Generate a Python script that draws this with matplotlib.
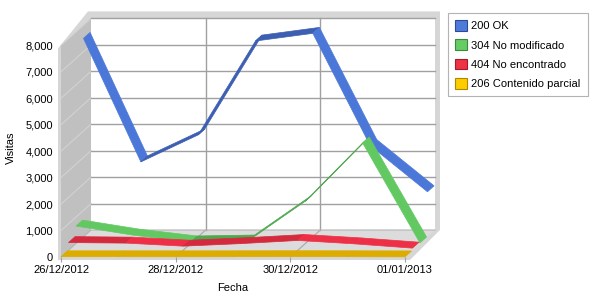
import matplotlib.pyplot as plt
from matplotlib.patches import Polygon, Patch

# data
fechas = ['26/12/2012', '27/12/2012', '28/12/2012', '29/12/2012',
          '30/12/2012', '31/12/2012', '01/01/2013']
ok_200 = [7500, 2830, 3850, 7400, 7690, 3450, 1700]
no_mod_304 = [660, 315, 60, 95, 1600, 3800, 20]
no_enc_404 = [290, 270, 155, 250, 370, 240, 80]
parcial_206 = [10, 10, 8, 10, 12, 10, 5]

labels = ['200 OK', '304 No modificado', '404 No encontrado', '206 Contenido parcial']
values = [ok_200, no_mod_304, no_enc_404, parcial_206]
# (light face, dark face, legend colour, edge)
colors = [('#4b78d8', '#3d5fb2', '#4f7bd8', '#2c4a9c'),
          ('#62c962', '#4ea84e', '#66cc66', '#3a8a3a'),
          ('#ee3047', '#d42a3d', '#ee3344', '#a01c2c'),
          ('#e1b000', '#dcac00', '#ffcc00', '#b08800')]

yticks = list(range(0, 9000, 1000))

# pixel geometry of the pseudo 3d box
W, H = 600, 300
X0, CAT = 61, 57.33        # px of first category, px per category
Y0, VAL = 257, 0.02645     # px of value 0, px per visit
AX_L, AX_R, AX_T = 56, 445, 5

plt.rcParams['font.family'] = ['Liberation Sans', 'DejaVu Sans']
plt.rcParams['font.size'] = 8

fig = plt.figure(figsize=(6, 3), dpi=100)
ax = fig.add_axes([AX_L / W, (H - Y0) / H, (AX_R - AX_L) / W, (Y0 - AX_T) / H])
ax.set_xlim((AX_L - X0) / CAT, (AX_R - X0) / CAT)
ax.set_ylim(0, (Y0 - AX_T) / VAL)
for s in ax.spines.values():
    s.set_visible(False)
ax.patch.set_alpha(0)


def px(dx, dy):
    return dx / CAT, dy / VAL


DX, DY = px(30, 27)
n = len(fechas) - 1
top = yticks[-1]


def poly(pts, fc, ec='none', lw=0, z=1):
    ax.add_patch(Polygon(pts, closed=True, fc=fc, ec=ec, lw=lw, zorder=z, clip_on=False))


# outer frame (light grey border)
fx, fy = px(3, 3)
ex, ey = px(5, 7)
poly([(-fx, top - fy), (DX - fx, top + DY + ey), (n + DX + ex, top + DY + ey),
      (n + DX + ex, DY), (n + ex, -fy), (-fx, -fy)], '#d6d6d6', z=0)

# left wall, back wall, floor
poly([(0, 0), (0, top), (DX, top + DY), (DX, DY)], '#c0c0c0', z=1)
poly([(DX, DY), (n + DX, DY), (n + DX, top + DY), (DX, top + DY)], 'white', z=1)
poly([(0, 0), (n, 0), (n + DX, DY), (DX, DY)], '#dcdcdc', z=1)

for v in yticks[1:]:
    ax.plot([0, DX], [v, v + DY], color='#d2d2d2', lw=0.8, zorder=2)
    ax.plot([DX, n + DX], [v + DY, v + DY], color='#a0a0a0', lw=1, zorder=2)
for c in [2, 4]:
    ax.plot([c + DX, c + DX], [DY, top + DY], color='#a0a0a0', lw=1, zorder=2)
    ax.plot([c, c + DX], [0, DY], color='#a8a8a8', lw=0.8, zorder=2)
ax.plot([0, DX, n + DX], [0, DY, DY], color='#b4b4b4', lw=0.8, zorder=2)

# ribbons, back series first
for k in range(len(values) - 1, -1, -1):
    vals = values[k]
    light, dark, _, edge = colors[k]
    slot = len(values) - 1 - k
    d0 = slot * 0.25
    d1 = d0 + 0.22
    for i in range(n):
        a, b = vals[i], vals[i + 1]
        fc = light if (b - a) * VAL < -1.5 else dark
        pts = [(i + d0 * DX, a + d0 * DY), (i + 1 + d0 * DX, b + d0 * DY),
               (i + 1 + d1 * DX, b + d1 * DY), (i + d1 * DX, a + d1 * DY)]
        poly(pts, fc, ec=fc, lw=0.5, z=6 - slot)

ax.set_xticks([0, 2, 4, 6], [fechas[i] for i in [0, 2, 4, 6]])
ax.set_yticks(yticks, [f'{v:,}' for v in yticks])
ax.tick_params(axis='x', length=3.6, color='#a0a0a0', pad=2.5)
ax.tick_params(axis='y', length=0, pad=2.2)

fig.text(10.5 / W, 1 - 147.5 / H, 'Visitas', rotation=90, ha='center', va='center')
fig.text(233 / W, 1 - 288 / H, 'Fecha', ha='center', va='center')

handles = [Patch(fc=c[2], ec=c[3], lw=0.8) for c in colors]
leg = fig.legend(handles, labels, loc='upper left', bbox_to_anchor=(448 / W, 1 - 13 / H),
                 frameon=True, fancybox=False, borderpad=0.65, labelspacing=0.73,
                 handlelength=1.1, handleheight=1.1, handletextpad=0.35,
                 borderaxespad=0, fontsize=8)
leg.get_frame().set_edgecolor('#a0a0a0')
leg.get_frame().set_linewidth(0.8)

fig.savefig('out.png', dpi=100, facecolor='white')
